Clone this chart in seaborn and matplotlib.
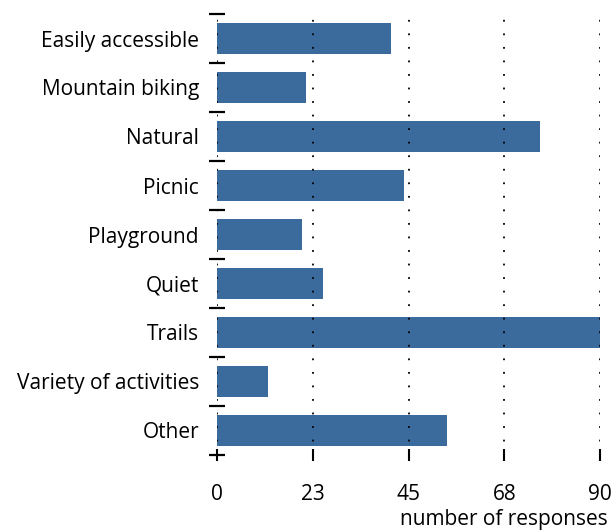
import matplotlib
matplotlib.use("Agg")
import matplotlib.pyplot as plt
import seaborn as sns
import pandas as pd
import numpy as np

categories = ["Easily accessible", "Mountain biking", "Natural", "Picnic", "Playground",
              "Quiet", "Trails", "Variety of activities", "Other"]
responses = [41, 21, 76, 44, 20, 25, 90, 12, 54]
xticks = [0, 22.5, 45, 67.5, 90]
xtick_labels = ["0", "23", "45", "68", "90"]

sns.set_theme(style="white")
plt.rcParams['font.family'] = ['Open Sans', 'DejaVu Sans']
plt.rcParams['text.color'] = 'black'
plt.rcParams['xtick.labelcolor'] = 'black'
plt.rcParams['ytick.labelcolor'] = 'black'
plt.rcParams['axes.labelcolor'] = 'black'

FS = 15

df = pd.DataFrame({"category": categories, "responses": responses})

fig = plt.figure(figsize=(6.11, 5.31), dpi=100)
ax = fig.add_axes([217/611, 1-455/531, (600-217)/611, (455-14)/531])

sns.barplot(data=df, x="responses", y="category", orient="h", color="#3b6a9d",
            saturation=1, width=0.62, ax=ax, zorder=1, linewidth=0)

ax.set_xlim(0, 90)
ax.set_ylim(len(categories) - 0.5, -0.5)
for s in ax.spines.values():
    s.set_visible(False)

ax.set_xticks(xticks)
ax.set_xticklabels(xtick_labels)
ax.tick_params(axis="x", direction="inout", length=8, width=1.5, color="black",
               pad=17, labelsize=FS, bottom=True)
ax.set_yticks(np.arange(len(categories)))
ax.set_yticklabels(categories)
ax.tick_params(axis="y", which="major", length=0, pad=13, labelsize=FS)
ax.set_yticks(np.arange(len(categories) + 1) - 0.5, minor=True)
ax.tick_params(axis="y", which="minor", direction="inout", length=11, width=1.6,
               color="black", left=True)

for xv in xticks:
    ax.axvline(xv, color="black", linewidth=1.3, linestyle=(0, (1, 6.5)), zorder=3)

ax.set_xlabel("")
ax.set_ylabel("")
fig.text(608/611, 1-520/531, "number of responses", ha="right", va="center", fontsize=FS)

fig.savefig("out.png", dpi=100)
